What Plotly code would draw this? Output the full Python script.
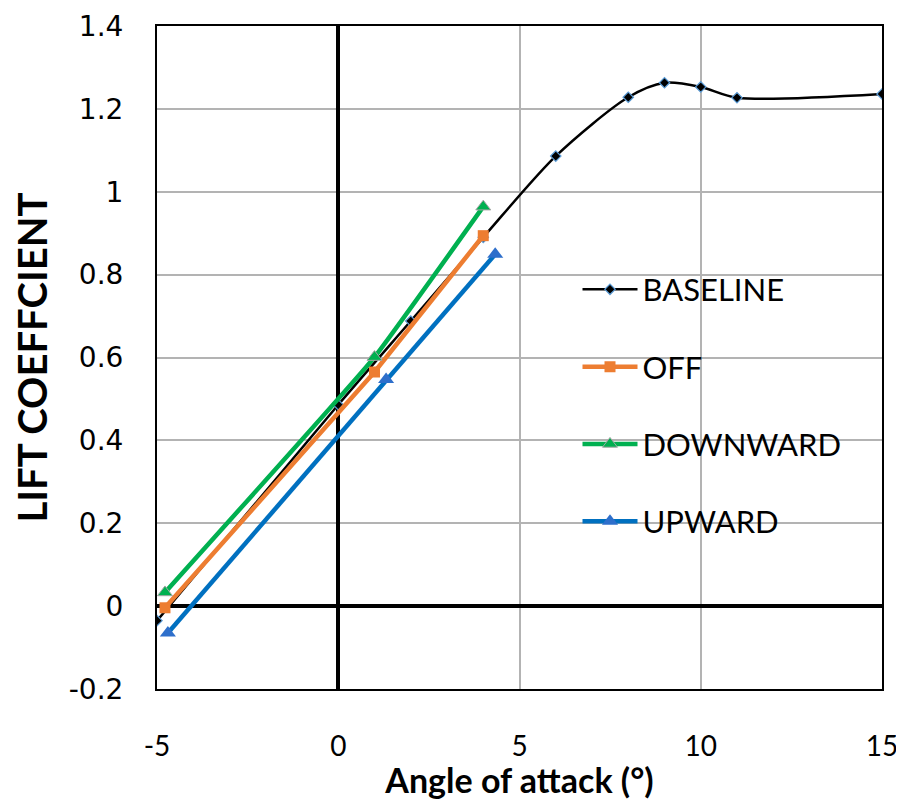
import plotly.graph_objects as go

baseline_x = [-5, 0, 2, 4, 6, 8, 9, 10, 11, 15]
baseline_y = [-0.035, 0.486, 0.688, 0.89, 1.086, 1.228, 1.263, 1.253, 1.227, 1.236]

off_x = [-4.78, 1.0, 4.0]
off_y = [-0.004, 0.565, 0.894]

down_x = [-4.78, 1.0, 4.0]
down_y = [0.033, 0.601, 0.964]

up_x = [-4.70, 1.32, 4.33]
up_y = [-0.065, 0.547, 0.849]

x_ticks = [-5, 0, 5, 10, 15]
y_ticks = [-0.2, 0, 0.2, 0.4, 0.6, 0.8, 1.0, 1.2, 1.4]
y_tick_text = ["-0.2", "0", "0.2", "0.4", "0.6", "0.8", "1", "1.2", "1.4"]

fig = go.Figure()
fig.add_trace(go.Scatter(
    x=baseline_x, y=baseline_y, name="BASELINE", mode="lines+markers",
    line=dict(color="black", width=2.5, shape="spline", smoothing=0.8),
    marker=dict(symbol="diamond", size=8, color="black", line=dict(color="#5B9BD5", width=1.2)),
    legendgroup="a"))
fig.add_trace(go.Scatter(
    x=off_x, y=off_y, name="OFF", mode="lines+markers",
    line=dict(color="#ED7D31", width=4.5),
    marker=dict(symbol="square", size=11, color="#ED7D31"),
    legendgroup="b"))
fig.add_trace(go.Scatter(
    x=down_x, y=down_y, name="DOWNWARD", mode="lines+markers",
    line=dict(color="#00B050", width=4.5, shape="spline", smoothing=0.3),
    marker=dict(symbol="triangle-up", size=13, color="#00B050", line=dict(color="#A5A5A5", width=1)),
    legendgroup="c"))
fig.add_trace(go.Scatter(
    x=up_x, y=up_y, name="UPWARD", mode="lines+markers",
    line=dict(color="#0070C0", width=4.5),
    marker=dict(symbol="triangle-up", size=14, color="#2E6FCB"),
    legendgroup="d"))

fig.update_layout(
    width=896, height=792,
    margin=dict(l=149, r=22, t=18, b=111, autoexpand=False),
    paper_bgcolor="white", plot_bgcolor="white",
    showlegend=True,
    legend=dict(x=0.58, y=0.643, xanchor="left", yanchor="top",
                font=dict(family="Lato, Open Sans, sans-serif", size=31, color="black"),
                bgcolor="rgba(255,255,255,0)", itemwidth=55,
                traceorder="grouped", tracegroupgap=34),
    xaxis=dict(range=[-5, 15], tickmode="array", tickvals=x_ticks,
               ticktext=[str(v) for v in x_ticks], automargin=False,
               showgrid=True, gridcolor="#B3B3B3", gridwidth=1.5,
               zeroline=True, zerolinecolor="black", zerolinewidth=4,
               showline=True, linecolor="black", linewidth=2, mirror=True,
               ticks="", ticklabelstandoff=31,
               tickfont=dict(family="Lato, Open Sans, sans-serif", size=28, color="black"),
               title=dict(text="<b>Angle of attack (°)</b>",
                          font=dict(family="Lato, Open Sans, sans-serif", size=34, color="black"),
                          standoff=0)),
    yaxis=dict(range=[-0.2, 1.4], tickmode="array", tickvals=y_ticks, ticktext=y_tick_text,
               showgrid=True, gridcolor="#B3B3B3", gridwidth=1.5, automargin=False,
               zeroline=True, zerolinecolor="black", zerolinewidth=4,
               showline=True, linecolor="black", linewidth=2, mirror=True,
               ticks="", ticklabelstandoff=26,
               tickfont=dict(family="DejaVu Sans, Verdana, sans-serif", size=28, color="black"),
               title=dict(text="<b>LIFT COEFFCIENT</b>",
                          font=dict(family="Lato, Open Sans, sans-serif", size=40, color="black"),
                          standoff=14)),
)

fig.write_html("out.html")
